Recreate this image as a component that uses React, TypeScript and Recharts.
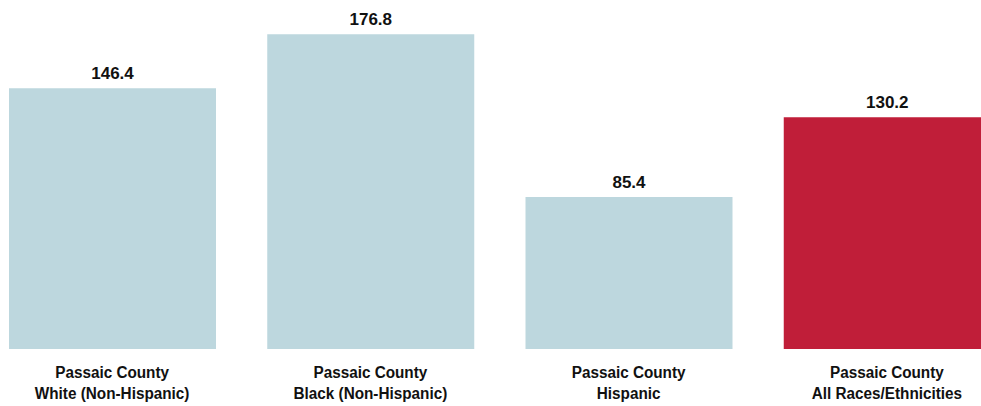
import React from 'react';
import { BarChart, Bar, XAxis, YAxis, Cell, LabelList } from 'recharts';

const categories = ['Passaic County|White (Non-Hispanic)', 'Passaic County|Black (Non-Hispanic)', 'Passaic County|Hispanic', 'Passaic County|All Races/Ethnicities'];
const values = [146.4, 176.8, 85.4, 130.2];
const barColors = ['#bdd7de', '#bdd7de', '#bdd7de', '#c01e39'];

const FONT = '"Liberation Sans Narrow", "Arial Narrow", "Liberation Sans", Arial, sans-serif';

const data = categories.map((c, i) => ({ name: c, value: values[i], color: barColors[i] }));

// no narrow font available, so squeeze the labels a bit
const CategoryTick = (props: any) => {
    const { x, y, payload } = props;
    const lines = String(payload.value).split('|');
    return (
        <g transform={`translate(${x},${y}) scale(0.9,1)`}>
            <text x={0} y={0} textAnchor="middle" fill="#111" fontFamily={FONT} fontWeight="bold" fontSize={17}>
                {lines.map((l, i) => (
                    <tspan key={i} x={0} dy={i === 0 ? 21 : 21}>{l}</tspan>
                ))}
            </text>
        </g>
    );
};

const App = () => {
    return (
        <div style={{ position: 'absolute', left: 0, top: 0, width: 981, height: 406, overflow: 'hidden', background: 'white' }}>
            <div style={{ position: 'absolute', left: -17, top: 0 }}>
                <BarChart width={1033} height={406} data={data} margin={{ top: 0, right: 0, left: 0, bottom: 0 }} barSize={207}>
                    <XAxis dataKey="name" axisLine={false} tickLine={false} interval={0} height={57} tick={<CategoryTick />} />
                    <YAxis hide domain={[0, 196]} />
                    <Bar dataKey="value" isAnimationActive={false}>
                        {data.map((entry, index) => (
                            <Cell key={`cell-${index}`} fill={entry.color} />
                        ))}
                        <LabelList dataKey="value" position="top" offset={9} fill="#111" fontFamily={FONT} fontWeight="bold" fontSize={17} formatter={(v: any) => Number(v).toFixed(1)} />
                    </Bar>
                </BarChart>
            </div>
        </div>
    );
};

export default App;
